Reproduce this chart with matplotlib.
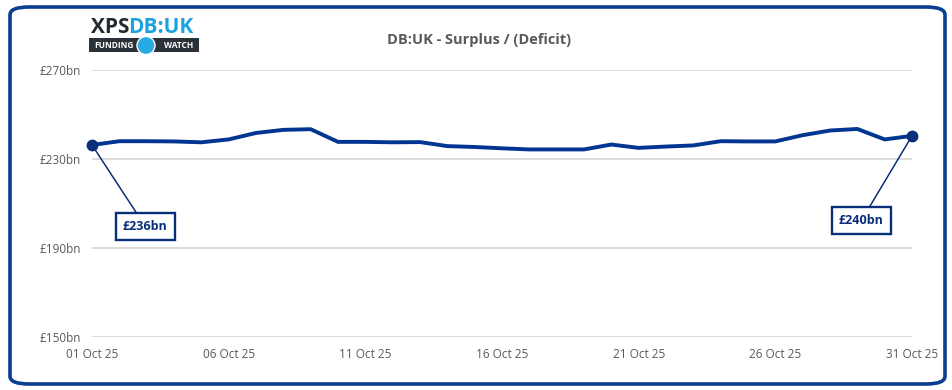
import matplotlib
matplotlib.use('Agg')
import matplotlib.pyplot as plt
import matplotlib.dates as mdates
from matplotlib.patches import FancyBboxPatch, Ellipse, Rectangle
import pandas as pd

plt.rcParams['font.family'] = ['Open Sans', 'DejaVu Sans']

# DB:UK surplus, £bn, daily through October 2025
dates = pd.date_range('2025-10-01', '2025-10-31', freq='D')
surplus = [236.3, 238.0, 238.0, 237.9, 237.5, 238.8, 241.7, 243.1, 243.4, 237.7,
           237.7, 237.5, 237.6, 235.8, 235.4, 234.8, 234.3, 234.3, 234.3, 236.5,
           235.0, 235.6, 236.1, 238.0, 237.9, 237.9, 240.7, 242.8, 243.5, 238.8,
           240.4]
y_ticks = [150, 190, 230, 270]
tick_dates = ['2025-10-01', '2025-10-06', '2025-10-11', '2025-10-16',
              '2025-10-21', '2025-10-26', '2025-10-31']
title = 'DB:UK - Surplus / (Deficit)'

navy = '#0a2f7a'
line_col = '#003591'
grey_txt = '#595959'

fig = plt.figure(figsize=(9.53, 3.9), dpi=100)

# rounded frame around the whole chart
frame = FancyBboxPatch((10 / 953, 6 / 390), 935 / 953, 377 / 390,
                       boxstyle='round,pad=0,rounding_size=0.02',
                       transform=fig.transFigure, fill=False,
                       edgecolor='#0b3d91', linewidth=2.6)
fig.patches.append(frame)

ax = fig.add_axes([92 / 953, 1 - 337 / 390, 820 / 953, 267 / 390])
ax.plot(dates, surplus, color=line_col, linewidth=2.8, solid_joinstyle='round',
        zorder=3)
ax.plot([dates[0], dates[-1]], [surplus[0], surplus[-1]], 'o', color=navy,
        markersize=7.5, zorder=4, clip_on=False)

ax.set_xlim(dates[0], dates[-1])
ax.set_ylim(150, 270)
ax.set_yticks(y_ticks)
ax.set_yticklabels([f'£{v}bn' for v in y_ticks])
ax.set_xticks(pd.to_datetime(tick_dates))
ax.xaxis.set_major_formatter(mdates.DateFormatter('%d %b %y'))
ax.grid(axis='y', color='#d9d9d9', linewidth=1.3)
ax.set_axisbelow(True)
for s in ax.spines.values():
    s.set_visible(False)
ax.tick_params(length=0, labelsize=8.5, labelcolor=grey_txt)
ax.tick_params(axis='y', pad=8)
ax.tick_params(axis='x', pad=8)

# callouts for first and last values
box = dict(boxstyle='square,pad=0.55', facecolor='white', edgecolor=navy,
           linewidth=1.7)
arrow = dict(arrowstyle='-', color=navy, linewidth=1.1, shrinkA=0, shrinkB=0)
ax.annotate(f'£{round(surplus[0])}bn', xy=(dates[0], surplus[0]),
            xytext=(dates[0] + pd.Timedelta(days=1.95), 199.7),
            ha='center', va='center', fontsize=9, fontweight='bold',
            color=navy, bbox=box, arrowprops=arrow, zorder=5)
ax.annotate(f'£{round(surplus[-1])}bn', xy=(dates[-1], surplus[-1]),
            xytext=(dates[-1] - pd.Timedelta(days=1.85), 202.4),
            ha='center', va='center', fontsize=9, fontweight='bold',
            color=navy, bbox=box, arrowprops=arrow, zorder=5)

fig.text(479 / 953, 1 - 40 / 390, title, ha='center', va='center',
         fontsize=10.5, fontweight='bold', color=grey_txt)

# logo
xps = fig.text(91 / 953, 1 - 33 / 390, 'XPS', ha='left', va='baseline',
               fontsize=15, fontweight='bold', color='#222a33')
fig.canvas.draw()
bb = xps.get_window_extent()
fig.text(bb.x1 / 953 - 0.001, 1 - 33 / 390, 'DB:UK', ha='left', va='baseline',
         fontsize=15, fontweight='bold', color='#1aa3e0')
fig.patches.append(Rectangle((89 / 953, 1 - 52 / 390), 110 / 953, 14 / 390,
                             transform=fig.transFigure, facecolor='#2b3138',
                             edgecolor='none'))
fig.text(114 / 953, 1 - 45 / 390, 'FUNDING', ha='center', va='center',
         fontsize=6, fontweight='bold', color='white')
fig.text(179 / 953, 1 - 45 / 390, 'WATCH', ha='center', va='center',
         fontsize=6, fontweight='bold', color='white')
fig.patches.append(Ellipse((146 / 953, 1 - 45.5 / 390), 18 / 953, 18 / 390,
                           transform=fig.transFigure, facecolor='#27a9e1',
                           edgecolor='white', linewidth=1))

fig.savefig('out.png', dpi=100)
